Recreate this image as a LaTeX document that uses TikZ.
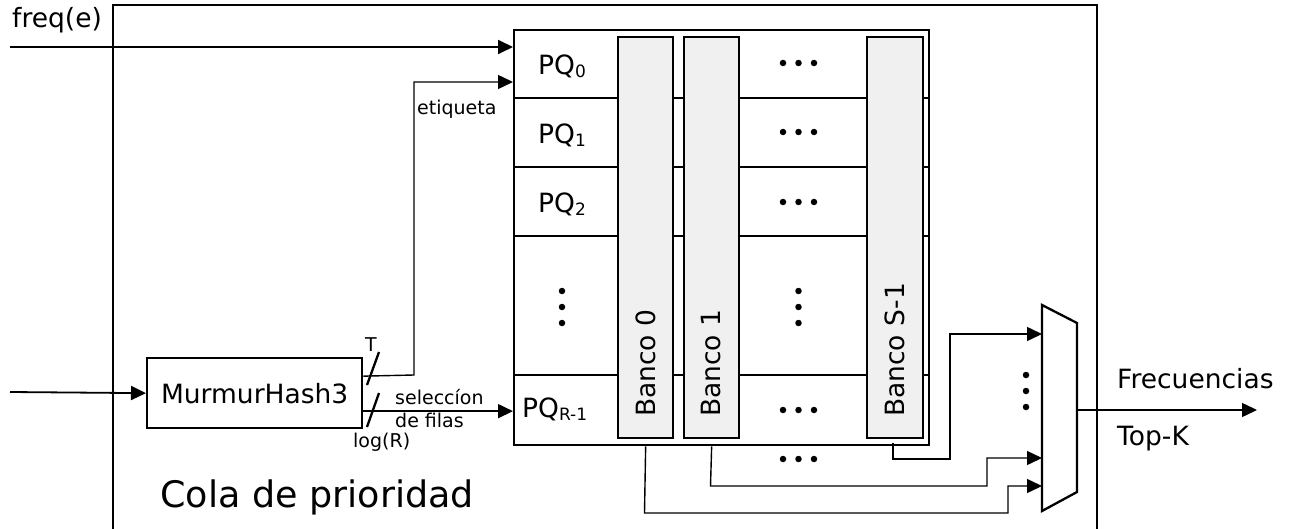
\documentclass[tikz,border=0pt]{standalone}
\usepackage{fontspec}
\setmainfont{DejaVu Sans}
\usetikzlibrary{arrows.meta,calc}
\definecolor{bankgray}{HTML}{F0F0F0}
\newcommand\pqsub[1]{\raisebox{-3pt}{\fontsize{17}{17}\selectfont #1}}
\begin{document}
\begin{tikzpicture}[x=1pt,y=-1pt,
  box/.style={draw,line width=2.3pt},
  wire/.style={line width=1.8pt},
  thin/.style={line width=1.4pt},
  tip/.style={-{Triangle[length=15pt,width=14pt]}},
  arr/.style={wire,tip},
  tarr/.style={thin,tip},
  lbl/.style={font=\fontsize{26.5}{30}\selectfont,inner sep=0pt},
  sml/.style={font=\fontsize{19}{22}\selectfont,inner sep=0pt},
  big/.style={font=\fontsize{36.5}{40}\selectfont,inner sep=0pt},
  bank/.style={draw,line width=2.3pt,fill=bankgray,minimum height=401pt,inner sep=0pt,anchor=north west},
  dot/.style={fill,circle,inner sep=0pt,minimum size=6.5pt},
]
\useasboundingbox (0,0) rectangle (1289,529);

% outer frame
\draw[box] (113,531) -- (113,5) -- (1097,5) -- (1097,531);

% grid
\node[box,minimum width=415pt,minimum height=415pt,inner sep=0pt,anchor=north west] (grid) at (513,29) {};
\foreach \yy in {98,167,236,375} \draw[box] (513,\yy) -- (928,\yy);

% banks
\node[bank,minimum width=55pt] (b0) at (617,36) {};
\node[bank,minimum width=55pt] (b1) at (683,36) {};
\node[bank,minimum width=56pt] (bS) at (866,36) {};
\node[lbl,rotate=90,anchor=west] (tb0) at (645.5,417) {Banco 0};
\node[lbl,rotate=90,anchor=west] (tb1) at (711.5,417) {Banco 1};
\node[lbl,rotate=90,anchor=west] (tbS) at (895,417) {Banco S-1};

% PQ labels
\node[lbl,anchor=base west] (pq0) at (538,75) {PQ\pqsub{0}};
\node[lbl,anchor=base west] (pq1) at (538,144) {PQ\pqsub{1}};
\node[lbl,anchor=base west] (pq2) at (538,213) {PQ\pqsub{2}};
\node[lbl,anchor=base west] (pqr) at (522,417) {PQ\pqsub{R-1}};

% dots
\foreach \yy in {63,132,202,410,459}
  \foreach \xx in {783,798.5,814} \node[dot] at (\xx,\yy) {};
\foreach \xx in {562,798.5}
  \foreach \yy in {291,307,323} \node[dot] at (\xx,\yy) {};
\foreach \yy in {375,391,407} \node[dot] at (1026,\yy) {};

% MurmurHash3
\node[box,minimum width=215pt,minimum height=70pt,inner sep=0pt,anchor=north west] (mh) at (146,357) {};
\node[lbl] (mht) at (mh.center) {MurmurHash3};

% mux
\draw[box] (1042,305) -- (1077,323) -- (1077,492) -- (1042,511) -- cycle;
\coordinate (m1) at (1042,334);
\coordinate (m2) at (1042,458);
\coordinate (m3) at (1042,486);
\coordinate (mo) at (1077,410);

% inputs
\coordinate (fin) at (10,47);
\draw[arr] (fin) -- (grid.west |- fin);
\node[lbl,anchor=base west] (freq) at (12,28) {freq(e)};
\coordinate (hin) at (10,392);
\draw[arr] (hin) -- (mh.west);

% etiqueta / seleccion
\coordinate (mhT) at ($(mh.east)+(0,-17)$);
\coordinate (mhL) at ($(mh.east)+(0,18)$);
\draw[tarr] (mhT) -- (414,375) -- (414,82) -- (grid.west |- 0,82);
\node[sml,anchor=base west] (etq) at (417,115) {etiqueta};
\draw[arr] (mhL) -- (grid.west |- mhL);
\node[sml,anchor=base west] (sel) at (395,404) {seleccíon};
\node[sml,anchor=base west] (fil) at (395,427) {de filas};
\draw[box] (367,385) -- (379,352);
\draw[box] (367,427) -- (379,393);
\node[sml] (tl) at (371,345) {T};
\node[sml,anchor=west] (lgr) at (353,442) {log(R)};

% banks to mux
\draw[tarr] (b0.south |- grid.south) -- (644.5,513) -- (1008,513) -- (1008,486) -- (m3);
\draw[tarr] (b1.south |- grid.south) -- (710.5,486) -- (987,486) -- (987,458) -- (m2);
\draw[tarr] (893,443) -- (893,459) -- (950,459) -- (950,334) -- (m1);

% output
\coordinate (out) at (1257,410);
\draw[tarr] (mo) -- (out);
\node[lbl,anchor=base west] (frec) at (1117,388) {Frecuencias};
\node[lbl,anchor=base west] (topk) at (1117,445) {Top-K};

% title
\node[big,anchor=base west] (cola) at (160,507) {Cola de prioridad};
\end{tikzpicture}
\end{document}
